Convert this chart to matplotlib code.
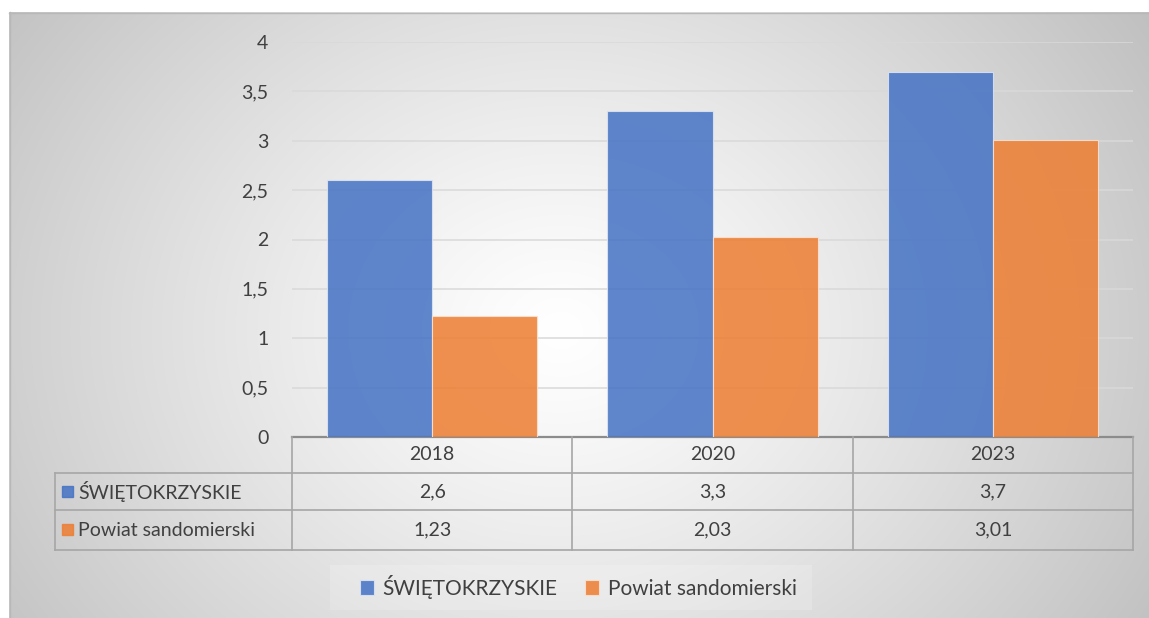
import numpy as np
import matplotlib.pyplot as plt
from matplotlib.patches import Rectangle

years = ["2018", "2020", "2023"]
series_names = ["ŚWIĘTOKRZYSKIE", "Powiat sandomierski"]
swietokrzyskie = [2.6, 3.3, 3.7]
sandomierski = [1.23, 2.03, 3.01]
yticks = [0, 0.5, 1, 1.5, 2, 2.5, 3, 3.5, 4]

blue = "#4472C4"
orange = "#ED7D31"
grid_c = "#d9d9d9"
line_c = "#a6a6a6"
text_c = "#404040"


def pl(v):
    return f"{v:g}".replace(".", ",")


plt.rcParams['font.family'] = ['Lato', 'DejaVu Sans']

W, H = 1149, 618
fig = plt.figure(figsize=(W / 100, H / 100), dpi=100)

# radial gradient background (pixel coords)
bg = fig.add_axes([0, 0, 1, 1], zorder=-10)
bg.set_xlim(0, W)
bg.set_ylim(H, 0)
bg.axis("off")
yy, xx = np.mgrid[12:618, 9:1149]
r = np.sqrt(((xx - 560) / 600) ** 2 + ((yy - 330) / 500) ** 2)
shade = 1 - 0.205 * np.clip(r, 0, 1.4) ** 1.2
img = np.dstack([shade, shade, shade])
bg.imshow(img, extent=[9, 1149, 618, 12], aspect="auto", interpolation="bilinear")
bg.plot([9, 1149], [12.5, 12.5], color="#b8b8b8", lw=1)
bg.plot([9.5, 9.5], [12, 618], color="#b8b8b8", lw=1)
# faint light band behind the legend
bg.add_patch(Rectangle((330, 565), 482, 45, color="white", alpha=0.18, lw=0))

# plot area
x0, x1, ytop, ybot = 292, 1133, 42, 437
ax = fig.add_axes([x0 / W, 1 - ybot / H, (x1 - x0) / W, (ybot - ytop) / H])
ax.patch.set_visible(False)
x = np.arange(len(years))
bw = 0.375
b1 = ax.bar(x - bw / 2, swietokrzyskie, bw, color=blue, alpha=0.85,
            edgecolor="#dfe6f3", lw=0.8, label=series_names[0], zorder=3)
b2 = ax.bar(x + bw / 2, sandomierski, bw, color=orange, alpha=0.85,
            edgecolor="#fbe3d3", lw=0.8, label=series_names[1], zorder=3)
ax.set_xlim(-0.5, len(years) - 0.5)
ax.set_ylim(0, 4)
ax.set_yticks(yticks)
ax.set_yticklabels([pl(v) for v in yticks], fontsize=14, color=text_c)
ax.tick_params(axis="y", length=0, pad=17)
ax.set_xticks([])
ax.yaxis.grid(True, color=grid_c, lw=1.1, zorder=0)
for s in ["left", "right", "top"]:
    ax.spines[s].set_visible(False)
ax.spines["bottom"].set_color("#8c8c8c")
ax.spines["bottom"].set_linewidth(1.6)

# data table (pixel coords)
tb = fig.add_axes([0, 0, 1, 1], zorder=5)
tb.set_xlim(0, W)
tb.set_ylim(H, 0)
tb.axis("off")
rows_y = [437, 473, 510, 550]
left_x = 55
col_x = np.linspace(x0, x1, len(years) + 1)
for yv in rows_y[1:]:
    tb.plot([left_x, x1], [yv, yv], color=line_c, lw=1.2)
for cx in col_x:
    tb.plot([cx, cx], [rows_y[0], rows_y[-1]], color=line_c, lw=1.2)
tb.plot([left_x, left_x], [rows_y[1], rows_y[-1]], color=line_c, lw=1.2)

fs = 14
for i, yr in enumerate(years):
    cx = (col_x[i] + col_x[i + 1]) / 2
    tb.text(cx, (rows_y[0] + rows_y[1]) / 2, yr, ha="center", va="center",
            fontsize=fs, color=text_c)
    tb.text(cx, (rows_y[1] + rows_y[2]) / 2, pl(swietokrzyskie[i]), ha="center",
            va="center", fontsize=fs, color=text_c)
    tb.text(cx, (rows_y[2] + rows_y[3]) / 2, pl(sandomierski[i]), ha="center",
            va="center", fontsize=fs, color=text_c)

for k, (name, col) in enumerate(zip(series_names, [blue, orange])):
    yc = (rows_y[k + 1] + rows_y[k + 2]) / 2
    tb.add_patch(Rectangle((62, yc - 6), 11, 11, color=col, alpha=0.85))
    tb.text(78, yc, name, ha="left", va="center", fontsize=fs, color=text_c)

# legend
fig.legend(handles=[b1, b2], labels=series_names, loc="center",
           bbox_to_anchor=(578 / W, 1 - 587 / H), ncol=2, frameon=False,
           fontsize=15, handlelength=0.7, handleheight=0.7,
           handletextpad=0.4, columnspacing=1.3, labelcolor=text_c)

fig.savefig("out.png", dpi=100)
